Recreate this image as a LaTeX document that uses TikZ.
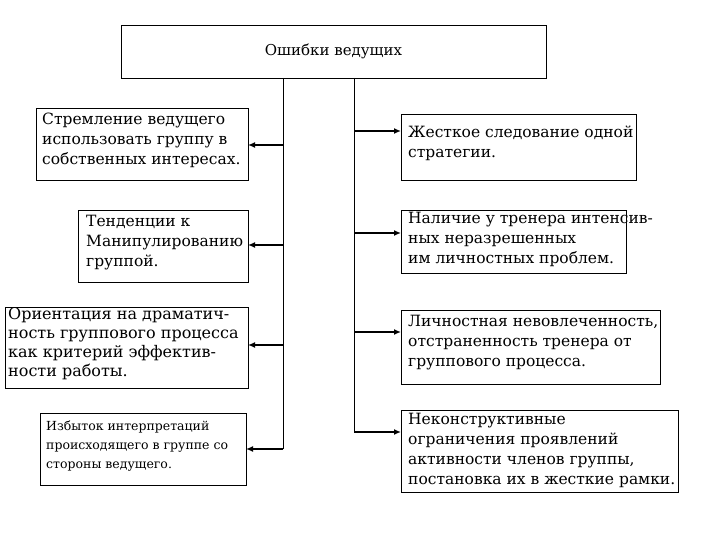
\documentclass[tikz,border=0pt]{standalone}
\usepackage{fontspec}
\usetikzlibrary{arrows.meta}
\setmainfont{DejaVu Serif}
\begin{document}
\begin{tikzpicture}[x=1pt,y=-1pt,
 box/.style={draw,line width=0.8pt,inner sep=0pt},
 arr/.style={-{Latex[length=7pt,width=6pt]},line width=1.6pt},
 ln/.style={line width=1pt},
 txt/.style={align=left,anchor=north west,font=\fontsize{15.5}{20}\selectfont,inner sep=0pt}]
\useasboundingbox (0,0) rectangle (720,540);
\draw[box] (121,25) rectangle (546,78);
\node[font=\fontsize{15}{20}\selectfont] (top) at (333.5,51) {Ошибки ведущих};
% left boxes
\draw[box] (36,108) rectangle (248,180);
\node[txt] (l1) at (42,113) {Стремление ведущего\\использовать группу в\\собственных интересах.};
\draw[box] (78,210) rectangle (248,282);
\node[txt] (l2) at (86,215) {Тенденции к\\Манипулированию\\группой.};
\draw[box] (5,307) rectangle (248,388);
\node[txt,font=\fontsize{16}{19}\selectfont] (l3) at (8,307) {Ориентация на драматич-\\ность группового процесса\\как критерий эффектив-\\ности работы.};
\draw[box] (40,413) rectangle (246,485);
\node[txt,font=\fontsize{12.5}{19}\selectfont] (l4) at (46,421) {Избыток интерпретаций\\происходящего в группе со\\стороны ведущего.};
% right boxes
\draw[box] (401,114) rectangle (636,180);
\node[txt] (r1) at (408,126) {Жесткое следование одной\\стратегии.};
\draw[box] (401,210) rectangle (626,273);
\node[txt] (r2) at (408,212) {Наличие у тренера интенсив-\\ных неразрешенных\\им личностных проблем.};
\draw[box] (401,310) rectangle (660,384);
\node[txt] (r3) at (408,315) {Личностная невовлеченность,\\отстраненность тренера от\\группового процесса.};
\draw[box] (401,410) rectangle (678,492);
\node[txt] (r4) at (408,413) {Неконструктивные\\ограничения проявлений\\активности членов группы,\\постановка их в жесткие рамки.};
% trunks
\coordinate (lt) at (283,78); \coordinate (lb) at (283,449);
\coordinate (rt) at (354,78); \coordinate (rb) at (354,432);
\draw[ln] (lt) -- (lb);
\draw[ln] (rt) -- (rb);
\draw[arr] (283,145) -- (248,145);
\draw[arr] (283,245) -- (248,245);
\draw[arr] (283,345) -- (248,345);
\draw[arr] (lb) -- (246,449);
\draw[arr] (354,131) -- (401,131);
\draw[arr] (354,233) -- (401,233);
\draw[arr] (354,332) -- (401,332);
\draw[arr] (rb) -- (401,432);
\end{tikzpicture}
\end{document}
